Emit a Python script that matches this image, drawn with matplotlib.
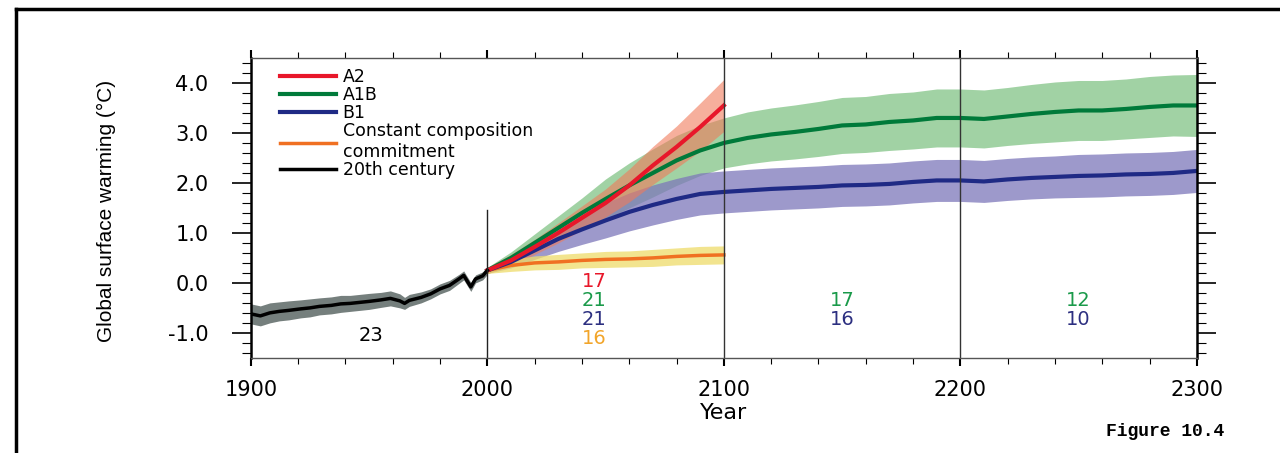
import matplotlib
matplotlib.use("Agg")
import matplotlib.pyplot as plt
import numpy as np
from matplotlib.lines import Line2D

plt.rcParams["font.family"] = ["DejaVu Sans"]
plt.rcParams["axes.unicode_minus"] = False

# 20th century simulation (ensemble mean and half-spread)
years_20c = [1900, 1904, 1908, 1912, 1916, 1921, 1925, 1929, 1934, 1938, 1942,
             1946, 1950, 1955, 1959, 1963, 1965, 1967, 1972, 1976, 1980, 1984,
             1988, 1990, 1993, 1995, 1998, 2000]
warm_20c = [-0.62, -0.66, -0.6, -0.57, -0.55, -0.52, -0.5, -0.47, -0.45, -0.42,
            -0.41, -0.39, -0.37, -0.34, -0.31, -0.36, -0.41, -0.35, -0.29,
            -0.22, -0.12, -0.05, 0.08, 0.15, -0.08, 0.08, 0.14, 0.25]
spread_20c = [0.2, 0.2, 0.2, 0.19, 0.19, 0.18, 0.18, 0.17, 0.17, 0.17, 0.16,
              0.16, 0.16, 0.15, 0.15, 0.14, 0.12, 0.12, 0.11, 0.1, 0.1, 0.1,
              0.09, 0.09, 0.09, 0.08, 0.08, 0.08]

# 21st century scenarios
years_21c = [2000, 2010, 2020, 2030, 2040, 2050, 2060, 2070, 2080, 2090, 2100]
a2 = [0.25, 0.45, 0.72, 1.0, 1.3, 1.6, 1.95, 2.35, 2.72, 3.12, 3.55]
a2_spread = [0.06, 0.12, 0.15, 0.2, 0.24, 0.28, 0.33, 0.38, 0.42, 0.48, 0.52]
commit = [0.25, 0.35, 0.4, 0.42, 0.45, 0.47, 0.48, 0.5, 0.53, 0.55, 0.56]
commit_spread = [0.06, 0.12, 0.14, 0.15, 0.15, 0.16, 0.16, 0.17, 0.17, 0.18, 0.18]

# A1B and B1 extended to 2300
years_ext = [2000, 2010, 2020, 2030, 2040, 2050, 2060, 2070, 2080, 2090, 2100,
             2110, 2120, 2130, 2140, 2150, 2160, 2170, 2180, 2190, 2200,
             2210, 2220, 2230, 2240, 2250, 2260, 2270, 2280, 2290, 2300]
a1b = [0.25, 0.5, 0.8, 1.1, 1.4, 1.68, 1.95, 2.2, 2.45, 2.65, 2.8,
       2.9, 2.97, 3.02, 3.08, 3.15, 3.17, 3.22, 3.25, 3.3, 3.3,
       3.28, 3.33, 3.38, 3.42, 3.45, 3.45, 3.48, 3.52, 3.55, 3.55]
a1b_spread = [0.06, 0.12, 0.18, 0.24, 0.3, 0.4, 0.45, 0.48, 0.5, 0.5, 0.5,
              0.52, 0.53, 0.54, 0.55, 0.56, 0.56, 0.57, 0.57, 0.58, 0.58,
              0.58, 0.58, 0.59, 0.6, 0.6, 0.6, 0.6, 0.61, 0.61, 0.62]
b1 = [0.25, 0.42, 0.65, 0.88, 1.07, 1.25, 1.42, 1.56, 1.68, 1.78, 1.82,
      1.85, 1.88, 1.9, 1.92, 1.95, 1.96, 1.98, 2.02, 2.05, 2.05,
      2.03, 2.07, 2.1, 2.12, 2.14, 2.15, 2.17, 2.18, 2.2, 2.24]
b1_spread = [0.06, 0.12, 0.18, 0.25, 0.3, 0.35, 0.38, 0.4, 0.41, 0.42, 0.42,
             0.42, 0.42, 0.42, 0.42, 0.42, 0.42, 0.42, 0.42, 0.42, 0.42,
             0.42, 0.42, 0.42, 0.42, 0.43, 0.43, 0.43, 0.43, 0.43, 0.43]

# number of models per period
count_20c = 23
counts_21c = [17, 21, 21, 16]  # A2, A1B, B1, commitment
counts_22c = [17, 16]  # A1B, B1
counts_23c = [12, 10]  # A1B, B1

c_red, c_green, c_blue, c_orange = "#e8172a", "#007a3a", "#1f2a85", "#f07022"

fig = plt.figure(figsize=(12.8, 4.53), dpi=100)
ax = fig.add_axes([0.196, 0.21, 0.739, 0.662])


def band(x, mean, spread, color, alpha):
    m = np.array(mean)
    s = np.array(spread)
    ax.fill_between(x, m - s, m + s, color=color, alpha=alpha, lw=0)


band(years_ext, a1b, a1b_spread, "#82c486", 0.75)
band(years_ext, b1, b1_spread, "#7d77ba", 0.75)
band(years_21c, a2, a2_spread, "#f07a5a", 0.6)
band(years_21c, commit, commit_spread, "#eedc6a", 0.75)
band(years_20c, warm_20c, spread_20c, "#5d6966", 0.85)

ax.plot(years_21c, commit, color=c_orange, lw=2.5, label="Constant composition\ncommitment")
ax.plot(years_ext, b1, color=c_blue, lw=3, label="B1")
ax.plot(years_ext, a1b, color=c_green, lw=3, label="A1B")
ax.plot(years_21c, a2, color=c_red, lw=3, label="A2")
ax.plot(years_20c, warm_20c, color="black", lw=2.5, label="20th century")

ax.axvline(2000, ymin=0, ymax=(1.45 + 1.5) / 6.0, color="#222222", lw=1)
ax.axvline(2100, color="#333333", lw=1)
ax.axvline(2200, color="#333333", lw=1)

ax.set_xlim(1900, 2300)
ax.set_ylim(-1.5, 4.5)
ax.set_xticks([1900, 2000, 2100, 2200, 2300])
ax.set_xticks(np.arange(1900, 2301, 20), minor=True)
ax.set_yticks([-1, 0, 1, 2, 3, 4])
ax.set_yticks(np.arange(-1.4, 4.5, 0.2), minor=True)
ax.yaxis.set_major_formatter(matplotlib.ticker.FormatStrFormatter("%.1f"))

ax.tick_params(axis="y", which="major", direction="out", length=13.5, width=1.2,
               left=True, right=True, labelsize=15, pad=17)
ax.tick_params(axis="y", which="minor", direction="out", length=6.5, width=0.8,
               left=True, right=True)
ax.tick_params(axis="x", which="major", direction="out", length=6, width=1.5,
               top=True, bottom=True, labelsize=15, pad=10)
ax.tick_params(axis="x", which="minor", direction="out", length=4, width=0.8,
               top=True, bottom=True)

for side in ["left", "right"]:
    ax.spines[side].set_linewidth(1.8)
    ax.spines[side].set_color("black")
for side in ["top", "bottom"]:
    ax.spines[side].set_linewidth(1)
    ax.spines[side].set_color("#555555")

ax.set_xlabel("Year", fontsize=16)
ax.xaxis.set_label_coords(0.5, -0.15)
ax.set_ylabel("Global surface warming (°C)", fontsize=15,
              family=["Liberation Sans", "DejaVu Sans"])
ax.yaxis.set_label_coords(-0.143, 0.49)

# legend in the original order
handles, labels = ax.get_legend_handles_labels()
order = ["A2", "A1B", "B1", "Constant composition\ncommitment", "20th century"]
hmap = dict(zip(labels, handles))
leg = ax.legend([hmap[k] for k in order], order, loc="upper left",
                bbox_to_anchor=(0.02, 1.0), frameon=False, fontsize=12.5,
                handlelength=3.2, handletextpad=0.4, labelspacing=0.0,
                borderaxespad=0.2)

# model counts
ax.text(1951, -1.06, str(count_20c), color="black", fontsize=14, ha="center", va="center")
for val, col, yy in zip(counts_21c, [c_red, "#1a9a4a", "#2c2f80", "#f2a52a"],
                        [0.02, -0.36, -0.74, -1.12]):
    ax.text(2045, yy, str(val), color=col, fontsize=14, ha="center", va="center")
for val, col, yy in zip(counts_22c, ["#1a9a4a", "#2c2f80"], [-0.36, -0.74]):
    ax.text(2150, yy, str(val), color=col, fontsize=14, ha="center", va="center")
for val, col, yy in zip(counts_23c, ["#1a9a4a", "#2c2f80"], [-0.36, -0.74]):
    ax.text(2250, yy, str(val), color=col, fontsize=14, ha="center", va="center")

fig.text(1165 / 1280, 1 - 431 / 453, "Figure 10.4", family=["Liberation Mono", "DejaVu Sans Mono"],
         fontweight="bold", fontsize=13, ha="center", va="center")

# outer frame
fig.add_artist(Line2D([16 / 1280, 1.0], [1 - 9 / 453, 1 - 9 / 453], color="black", lw=2.5,
                      transform=fig.transFigure))
fig.add_artist(Line2D([16 / 1280, 16 / 1280], [0, 1 - 9 / 453], color="black", lw=2.5,
                      transform=fig.transFigure))

fig.savefig("out.png", dpi=100)
